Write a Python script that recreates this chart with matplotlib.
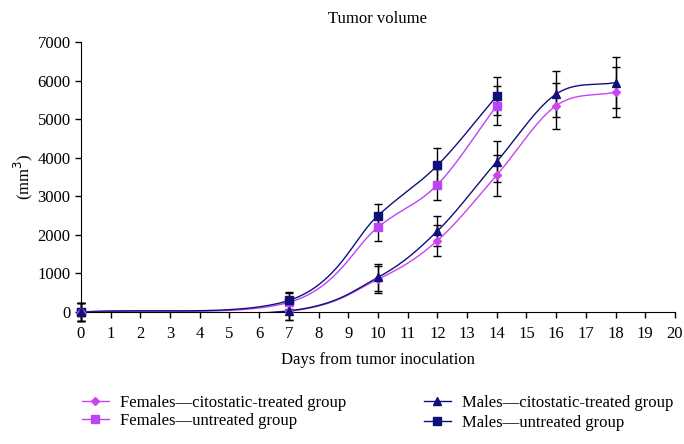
import numpy as np
import matplotlib
matplotlib.use("Agg")
import matplotlib.pyplot as plt
from matplotlib.lines import Line2D

plt.rcParams['font.family'] = ['Liberation Serif', 'DejaVu Serif']
plt.rcParams['font.size'] = 12

# data
days_treated = [0, 7, 10, 12, 14, 16, 18]
days_untreated = [0, 7, 10, 12, 14]
fem_treated = [0, 20, 850, 1850, 3550, 5350, 5700]
fem_treated_err = [230, 230, 350, 400, 530, 600, 650]
male_treated = [0, 30, 900, 2100, 3900, 5650, 5950]
male_treated_err = [230, 230, 350, 400, 530, 600, 650]
fem_untreated = [0, 250, 2200, 3300, 5350]
fem_untreated_err = [230, 230, 350, 400, 500]
male_untreated = [0, 300, 2500, 3800, 5600]
male_untreated_err = [230, 230, 300, 450, 500]

MAGENTA = '#CC44EE'
PURPLE = '#BB44F5'
NAVY = '#10107A'


def smooth(x, y, n=40):
    # Catmull-Rom style smoothing like spreadsheet "smoothed line"
    x = np.asarray(x, float); y = np.asarray(y, float)
    px = np.concatenate([[2*x[0]-x[1]], x, [2*x[-1]-x[-2]]])
    py = np.concatenate([[2*y[0]-y[1]], y, [2*y[-1]-y[-2]]])
    xs, ys = [], []
    for i in range(1, len(px)-2):
        p0, p1, p2, p3 = (np.array([px[j], py[j]]) for j in (i-1, i, i+1, i+2))
        c1 = p1 + (p2 - p0) / 6
        c2 = p2 - (p3 - p1) / 6
        t = np.linspace(0, 1, n)[:, None]
        b = (1-t)**3*p1 + 3*(1-t)**2*t*c1 + 3*(1-t)*t**2*c2 + t**3*p2
        xs.append(b[:, 0]); ys.append(b[:, 1])
    return np.concatenate(xs), np.concatenate(ys)


fig = plt.figure(figsize=(6.84, 4.44), dpi=100)
ax = fig.add_axes([0.1184, 0.2973, 0.8684, 0.6081])

series = [
    (days_untreated, fem_untreated, fem_untreated_err, PURPLE, 's', 6),
    (days_untreated, male_untreated, male_untreated_err, NAVY, 's', 6),
    (days_treated, fem_treated, fem_treated_err, MAGENTA, 'D', 4.5),
    (days_treated, male_treated, male_treated_err, NAVY, '^', 6),
]
for x, y, e, c, m, ms in series:
    sx, sy = smooth(x, y)
    ax.plot(sx, sy, color=c, lw=1.0, zorder=2)
    ax.errorbar(x, y, yerr=e, fmt='none', ecolor='black', elinewidth=1.0,
                capsize=3, capthick=1.0, clip_on=False, zorder=3)
    ax.plot(x, y, ls='none', marker=m, ms=ms, color=c, clip_on=False, zorder=4)

ax.set_xlim(0, 20)
ax.set_ylim(0, 7000)
ax.set_xticks(range(0, 21))
ax.set_yticks(range(0, 7001, 1000))
ax.spines['top'].set_visible(False)
ax.spines['right'].set_visible(False)
ax.tick_params(axis='both', direction='out', length=4, width=1, colors='black')
ax.tick_params(axis='x', pad=6)
ax.set_xlabel('Days from tumor inoculation', labelpad=7)
ax.set_ylabel('(mm$^3$)', labelpad=2)
ax.set_title('Tumor volume', fontsize=12, pad=14)

h1 = [Line2D([], [], color=MAGENTA, marker='D', ms=4.5, lw=1),
      Line2D([], [], color=PURPLE, marker='s', ms=5.5, lw=1)]
h2 = [Line2D([], [], color=NAVY, marker='^', ms=5.5, lw=1),
      Line2D([], [], color=NAVY, marker='s', ms=5.5, lw=1)]
fig.legend(h1, ['Females\u2014citostatic-treated group', 'Females\u2014untreated group'],
           loc='upper left', bbox_to_anchor=(0.12, 0.11), frameon=False,
           handlelength=1.6, handletextpad=0.65, labelspacing=0.1,
           borderpad=0, borderaxespad=0)
fig.legend(h2, ['Males\u2014citostatic-treated group', 'Males\u2014untreated group'],
           loc='upper left', bbox_to_anchor=(0.62, 0.11), frameon=False,
           handlelength=1.6, handletextpad=0.65, labelspacing=0.22,
           borderpad=0, borderaxespad=0)

fig.savefig('out.png', dpi=100)
